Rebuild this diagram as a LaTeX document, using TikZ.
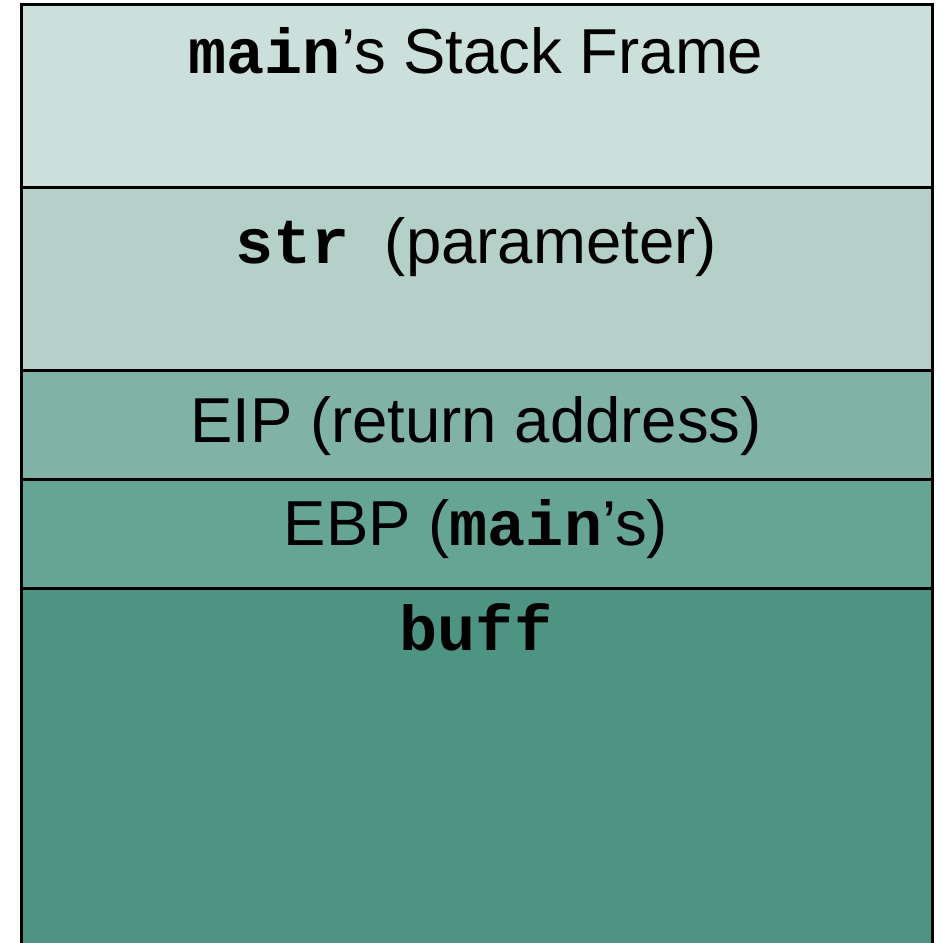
\documentclass[tikz,border=0pt]{standalone}
\usepackage{fontspec}
\setmainfont{Liberation Sans}
\setmonofont{Liberation Mono}
\usepackage{tikz}
\definecolor{mainframe}{RGB}{204,224,219}
\definecolor{paramframe}{RGB}{181,208,200}
\definecolor{eipframe}{RGB}{128,179,166}
\definecolor{ebpframe}{RGB}{102,165,148}
\definecolor{buffframe}{RGB}{78,148,130}
\newcommand{\stkcode}[1]{\texttt{\bfseries #1}}
\tikzset{
  slotlabel/.style={
    anchor=base,
    inner sep=0pt,
    font=\fontsize{31.75}{38}\selectfont
  },
  slotline/.style={
    draw=black,
    line width=1.5pt
  }
}

\begin{document}
\begin{tikzpicture}[x=0.5pt,y=-0.5pt]
    \useasboundingbox (0,0) rectangle (944,943);

    % stack slots, top to bottom
    \fill[mainframe]  (21,4)   rectangle (932,187);
    \fill[paramframe] (21,187) rectangle (932,370);
    \fill[eipframe]   (21,370) rectangle (932,479);
    \fill[ebpframe]   (21,479) rectangle (932,588);
    \fill[buffframe]  (21,588) rectangle (932,943);

    \draw[slotline] (21,943) -- (21,4) -- (932,4) -- (932,943);
    \foreach \y in {187,370,479,588}
        \draw[slotline] (21,\y) -- (932,\y);

    \node[slotlabel] (mainlbl)  at (476,73)  {\stkcode{main}’s Stack Frame};
    \node[slotlabel] (strlbl)   at (476,263) {\stkcode{str}\ \ (parameter)};
    \node[slotlabel] (eiplbl)   at (476,442) {EIP (return address)};
    \node[slotlabel] (ebplbl)   at (476,545) {EBP (\stkcode{main}’s)};
    \node[slotlabel] (bufflbl)  at (476,650) {\stkcode{buff}};
\end{tikzpicture}
\end{document}
